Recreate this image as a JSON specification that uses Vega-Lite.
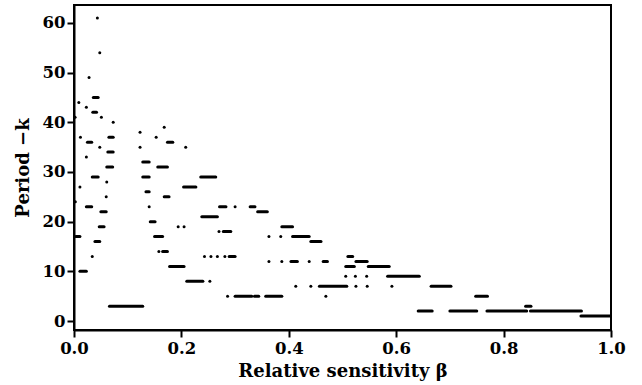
{
  "$schema": "https://vega.github.io/schema/vega-lite/v6.json",
  "width": 537,
  "height": 325,
  "autosize": "none",
  "padding": {"left": 74, "top": 5, "right": 31, "bottom": 55},
  "background": "white",
  "config": {
    "view": {"stroke": "black", "strokeWidth": 2},
    "font": "DejaVu Serif",
    "axis": {
      "labelFont": "DejaVu Serif", "labelFontWeight": "bold", "labelFontSize": 16.5, "labelColor": "black",
      "titleFont": "DejaVu Serif", "titleFontWeight": "bold", "titleFontSize": 18, "titleColor": "black",
      "domainColor": "black", "domainWidth": 2, "tickColor": "black", "tickWidth": 2, "tickSize": 7,
      "labelFlush": false, "grid": false
    }
  },
  "data": {"values": [
    {"b0": 0.0435, "b1": 0.0435, "k": 61},
    {"b0": 0.048, "b1": 0.048, "k": 54},
    {"b0": 0.028, "b1": 0.028, "k": 49},
    {"b0": 0.036, "b1": 0.045, "k": 45},
    {"b0": 0.009, "b1": 0.009, "k": 44},
    {"b0": 0.023, "b1": 0.023, "k": 43},
    {"b0": 0.035, "b1": 0.042, "k": 42},
    {"b0": 0.002, "b1": 0.002, "k": 41},
    {"b0": 0.051, "b1": 0.051, "k": 41},
    {"b0": 0.073, "b1": 0.073, "k": 40},
    {"b0": 0.168, "b1": 0.168, "k": 39},
    {"b0": 0.123, "b1": 0.123, "k": 38},
    {"b0": 0.012, "b1": 0.012, "k": 37},
    {"b0": 0.065, "b1": 0.073, "k": 37},
    {"b0": 0.153, "b1": 0.153, "k": 37},
    {"b0": 0.025, "b1": 0.033, "k": 36},
    {"b0": 0.174, "b1": 0.184, "k": 36},
    {"b0": 0.048, "b1": 0.048, "k": 35},
    {"b0": 0.123, "b1": 0.123, "k": 35},
    {"b0": 0.208, "b1": 0.208, "k": 35},
    {"b0": 0.063, "b1": 0.073, "k": 34},
    {"b0": 0.023, "b1": 0.023, "k": 33},
    {"b0": 0.128, "b1": 0.140, "k": 32},
    {"b0": 0.061, "b1": 0.072, "k": 31},
    {"b0": 0.156, "b1": 0.174, "k": 31},
    {"b0": 0.034, "b1": 0.045, "k": 29},
    {"b0": 0.128, "b1": 0.140, "k": 29},
    {"b0": 0.236, "b1": 0.264, "k": 29},
    {"b0": 0.061, "b1": 0.061, "k": 28},
    {"b0": 0.011, "b1": 0.011, "k": 27},
    {"b0": 0.204, "b1": 0.227, "k": 27},
    {"b0": 0.134, "b1": 0.140, "k": 26},
    {"b0": 0.060, "b1": 0.060, "k": 25},
    {"b0": 0.168, "b1": 0.177, "k": 25},
    {"b0": 0.0025, "b1": 0.0025, "k": 24},
    {"b0": 0.023, "b1": 0.033, "k": 23},
    {"b0": 0.140, "b1": 0.140, "k": 23},
    {"b0": 0.271, "b1": 0.283, "k": 23},
    {"b0": 0.300, "b1": 0.300, "k": 23},
    {"b0": 0.328, "b1": 0.337, "k": 23},
    {"b0": 0.050, "b1": 0.060, "k": 22},
    {"b0": 0.342, "b1": 0.360, "k": 22},
    {"b0": 0.238, "b1": 0.267, "k": 21},
    {"b0": 0.142, "b1": 0.151, "k": 20},
    {"b0": 0.047, "b1": 0.056, "k": 19},
    {"b0": 0.194, "b1": 0.194, "k": 19},
    {"b0": 0.205, "b1": 0.205, "k": 19},
    {"b0": 0.387, "b1": 0.407, "k": 19},
    {"b0": 0.270, "b1": 0.270, "k": 18},
    {"b0": 0.278, "b1": 0.292, "k": 18},
    {"b0": 0.003, "b1": 0.011, "k": 17},
    {"b0": 0.150, "b1": 0.165, "k": 17},
    {"b0": 0.363, "b1": 0.363, "k": 17},
    {"b0": 0.385, "b1": 0.385, "k": 17},
    {"b0": 0.407, "b1": 0.438, "k": 17},
    {"b0": 0.039, "b1": 0.048, "k": 16},
    {"b0": 0.441, "b1": 0.460, "k": 16},
    {"b0": 0.158, "b1": 0.158, "k": 14},
    {"b0": 0.165, "b1": 0.174, "k": 14},
    {"b0": 0.034, "b1": 0.034, "k": 13},
    {"b0": 0.243, "b1": 0.243, "k": 13},
    {"b0": 0.255, "b1": 0.255, "k": 13},
    {"b0": 0.267, "b1": 0.267, "k": 13},
    {"b0": 0.281, "b1": 0.281, "k": 13},
    {"b0": 0.289, "b1": 0.300, "k": 13},
    {"b0": 0.510, "b1": 0.519, "k": 13},
    {"b0": 0.363, "b1": 0.363, "k": 12},
    {"b0": 0.387, "b1": 0.387, "k": 12},
    {"b0": 0.404, "b1": 0.416, "k": 12},
    {"b0": 0.438, "b1": 0.438, "k": 12},
    {"b0": 0.464, "b1": 0.472, "k": 12},
    {"b0": 0.525, "b1": 0.546, "k": 12},
    {"b0": 0.178, "b1": 0.205, "k": 11},
    {"b0": 0.506, "b1": 0.522, "k": 11},
    {"b0": 0.548, "b1": 0.587, "k": 11},
    {"b0": 0.011, "b1": 0.023, "k": 10},
    {"b0": 0.506, "b1": 0.506, "k": 9},
    {"b0": 0.524, "b1": 0.524, "k": 9},
    {"b0": 0.545, "b1": 0.545, "k": 9},
    {"b0": 0.584, "b1": 0.643, "k": 9},
    {"b0": 0.210, "b1": 0.240, "k": 8},
    {"b0": 0.253, "b1": 0.253, "k": 8},
    {"b0": 0.413, "b1": 0.413, "k": 7},
    {"b0": 0.441, "b1": 0.441, "k": 7},
    {"b0": 0.457, "b1": 0.508, "k": 7},
    {"b0": 0.525, "b1": 0.525, "k": 7},
    {"b0": 0.546, "b1": 0.546, "k": 7},
    {"b0": 0.592, "b1": 0.592, "k": 7},
    {"b0": 0.665, "b1": 0.702, "k": 7},
    {"b0": 0.286, "b1": 0.286, "k": 5},
    {"b0": 0.300, "b1": 0.331, "k": 5},
    {"b0": 0.336, "b1": 0.344, "k": 5},
    {"b0": 0.357, "b1": 0.387, "k": 5},
    {"b0": 0.469, "b1": 0.469, "k": 5},
    {"b0": 0.748, "b1": 0.770, "k": 5},
    {"b0": 0.066, "b1": 0.128, "k": 3},
    {"b0": 0.841, "b1": 0.851, "k": 3},
    {"b0": 0.641, "b1": 0.667, "k": 2},
    {"b0": 0.700, "b1": 0.750, "k": 2},
    {"b0": 0.769, "b1": 0.843, "k": 2},
    {"b0": 0.850, "b1": 0.945, "k": 2},
    {"b0": 0.944, "b1": 1.0, "k": 1}
  ]},
  "mark": {"type": "rule", "color": "black", "strokeWidth": 3, "strokeCap": "round", "clip": true},
  "encoding": {
    "x": {"field": "b0", "type": "quantitative",
      "scale": {"domain": [0, 1], "nice": false, "zero": false},
      "axis": {"title": "Relative sensitivity β", "values": [0, 0.2, 0.4, 0.6, 0.8, 1.0], "format": ".1f", "labelPadding": 3, "titlePadding": 6}},
    "x2": {"field": "b1"},
    "y": {"field": "k", "type": "quantitative",
      "scale": {"domain": [-1.8, 63.6], "nice": false, "zero": false},
      "axis": {"title": "Period −k", "values": [0, 10, 20, 30, 40, 50, 60], "labelPadding": 2, "titlePadding": 10}}
  }
}
